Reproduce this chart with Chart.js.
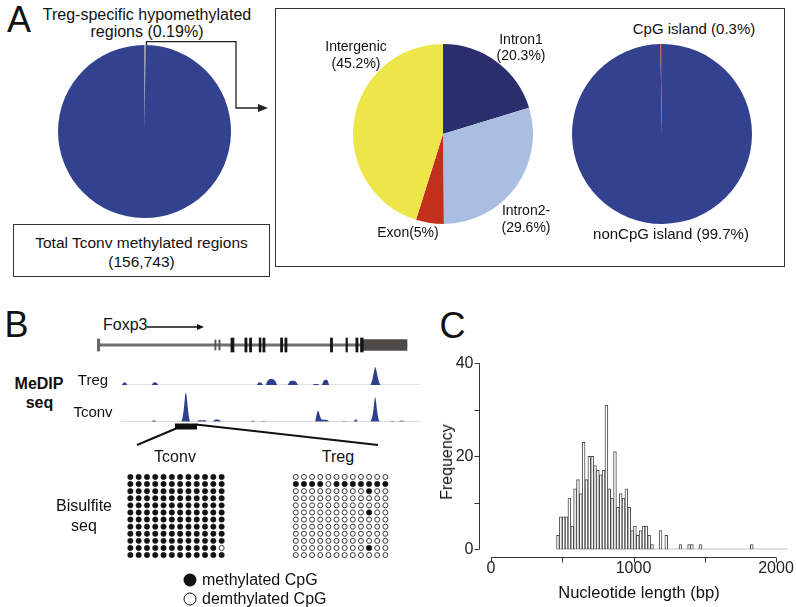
<!DOCTYPE html>
<html lang="en">
<head>
<meta charset="UTF-8">
<title>Treg hypomethylated regions</title>
<script src="https://cdn.jsdelivr.net/npm/chart.js@4.4.1/dist/chart.umd.min.js"></script>
<style>
    body{
        margin: 0;
        padding: 0;
        background: #fff;
        font-family: 'Liberation Sans', Arial, sans-serif;
        color: #111;
    }
    #page{
        position: relative;
        width: 796px;
        height: 607px;
        overflow: hidden;
    }
    canvas.abs, svg.abs{
        position: absolute;
    }
    .t{
        position: absolute;
        white-space: nowrap;
        line-height: 1;
        transform: translate(-50%, -50%);
    }
    .tl{
        position: absolute;
        white-space: nowrap;
        line-height: 1;
        transform: translate(0, -50%);
    }
    .box{
        position: absolute;
        border: 1px solid #333;
        box-sizing: border-box;
    }
    .dot{
        position: absolute;
        width: 13px;
        height: 13px;
        border-radius: 50%;
        box-sizing: border-box;
        transform: translate(-50%, -50%);
    }
</style>
</head>
<body>
<div id="page">
    <!-- panel A -->
    <div class="box" style="left:13px;top:224px;width:257px;height:53px;"></div>
    <div class="box" style="left:275px;top:8px;width:510px;height:259px;"></div>
    <canvas id="pieAll" class="abs" width="173" height="173" style="left:57.5px;top:45px;"></canvas>
    <canvas id="pieRegion" class="abs" width="180" height="180" style="left:353px;top:43.5px;"></canvas>
    <canvas id="pieCpg" class="abs" width="180" height="180" style="left:571.7px;top:43.5px;"></canvas>

    <div class="t" style="left:19px;top:20px;font-size:36px;">A</div>
    <div class="t" style="left:147px;top:14.5px;font-size:16px;">Treg-specific hypomethylated</div>
    <div class="t" id="lblAll" style="left:147px;top:31.5px;font-size:16px;"></div>
    <div class="t" style="left:141.5px;top:243px;font-size:15.5px;">Total Tconv methylated regions</div>
    <div class="t" id="lblTotal" style="left:141.5px;top:262px;font-size:15.5px;"></div>

    <div class="t" id="lblIntron1" style="left:521px;top:47.5px;font-size:14px;line-height:1.2;text-align:center;"></div>
    <div class="t" id="lblIntergenic" style="left:356px;top:55px;font-size:14px;line-height:1.2;text-align:center;"></div>
    <div class="t" id="lblIntron2" style="left:526px;top:219px;font-size:14px;line-height:1.2;text-align:center;"></div>
    <div class="t" id="lblExon" style="left:408px;top:232px;font-size:14px;"></div>
    <div class="t" id="lblCpg" style="left:694px;top:28px;font-size:15px;"></div>
    <div class="t" id="lblNonCpg" style="left:671px;top:233px;font-size:15px;"></div>

    <!-- panel B -->
    <div class="t" style="left:16.5px;top:325px;font-size:36px;">B</div>
    <div class="tl" style="left:103px;top:325px;font-size:16px;">Foxp3</div>
    <canvas id="gene" class="abs" width="323" height="18" style="left:97px;top:336px;"></canvas>
    <canvas id="trackTreg" class="abs" width="323" height="25" style="left:97px;top:361px;"></canvas>
    <canvas id="trackTconv" class="abs" width="323" height="34" style="left:97px;top:389px;"></canvas>
    <div class="t" style="left:39px;top:384px;font-size:16px;font-weight:bold;">MeDIP</div>
    <div class="t" style="left:39.5px;top:403px;font-size:16px;font-weight:bold;">seq</div>
    <div class="t" style="left:93px;top:379px;font-size:15px;">Treg</div>
    <div class="t" style="left:93px;top:411px;font-size:15px;">Tconv</div>

    <div class="t" style="left:175px;top:457px;font-size:16px;">Tconv</div>
    <div class="t" style="left:338px;top:457px;font-size:16px;">Treg</div>
    <div class="t" style="left:84px;top:506px;font-size:16px;">Bisulfite</div>
    <div class="t" style="left:84px;top:526px;font-size:16px;">seq</div>
    <canvas id="bisTconv" class="abs" width="116" height="100" style="left:118px;top:466px;"></canvas>
    <canvas id="bisTreg" class="abs" width="114" height="100" style="left:284px;top:466px;"></canvas>
    <div class="dot" style="left:190px;top:580px;background:#111;"></div>
    <div class="dot" style="left:190px;top:599px;background:#fff;border:1.3px solid #111;"></div>
    <div class="tl" style="left:202px;top:580px;font-size:16px;">methylated CpG</div>
    <div class="tl" style="left:202px;top:599px;font-size:16px;">demthylated CpG</div>

    <!-- panel C -->
    <div class="t" style="left:452.5px;top:326px;font-size:36px;">C</div>
    <canvas id="hist" class="abs" width="376" height="317" style="left:420px;top:290px;"></canvas>
    <div class="t" style="left:446.7px;top:461.5px;font-size:16px;transform:translate(-50%,-50%) rotate(-90deg);">Frequency</div>
    <div class="t" style="left:639px;top:591.7px;font-size:16.5px;">Nucleotide length (bp)</div>

    <svg class="abs" width="796" height="607" style="left:0;top:0;">
        <polyline points="146.5,45 146.5,41.7 236,41.7 236,108 259,108" fill="none" stroke="#222" stroke-width="1.3"/>
        <polygon points="258,104 268,108 258,112" fill="#222"/>
        <line x1="147" y1="327" x2="198" y2="327" stroke="#111" stroke-width="1.6"/>
        <polygon points="197,324 204,327 197,330" fill="#111"/>
        <rect x="175" y="423.5" width="22" height="6" fill="#111"/>
        <line x1="176" y1="428.5" x2="137" y2="445" stroke="#111" stroke-width="2"/>
        <line x1="196" y1="424.5" x2="378" y2="445" stroke="#111" stroke-width="2"/>
    </svg>
</div>

<script>
// ---- panel A: pies (percent) ----
const allLabels = ['Treg-specific hypomethylated regions', 'Other Tconv methylated regions'];
const allValues = [0.19, 99.81];
const totalRegions = '156,743';

const regionLabels = ['Intron1', 'Intron2-', 'Exon', 'Intergenic'];
const regionValues = [20.3, 29.6, 5, 45.2];

const cpgLabels = ['nonCpG island', 'CpG island'];
const cpgValues = [99.7, 0.3];

// ---- panel B: Foxp3 locus, positions in locus units ----
const tssMarker = [[0, 0.9]];
const minorExons = [[38.0, 38.4], [39.3, 39.7]];
const codingExons = [[43.2, 44.2], [47.7, 48.4], [49.2, 49.9], [52.3, 52.9], [53.5, 54.2],
    [59.2, 59.9], [60.6, 61.3], [75.3, 76.0], [80.3, 80.8], [83.5, 84.2], [85.0, 85.9]];
const utr3 = [[85.9, 100]];
const locusSpan = [0, 104.2];
const trackSpan = [8, 104.2];

// MeDIP read coverage [position, signal]
const tregSignal = [
    [8.0,0],[8.5,2],[8.9,2.7],[9.4,2],[9.8,0],
    [17.6,0],[18.2,2.2],[18.7,2.7],[19.3,2],[19.8,0],
    [51.5,0],[52.2,2.5],[52.9,2.5],[53.6,0],
    [54.4,0],[55.0,4],[55.6,5.5],[56.2,6],[56.9,5.5],[57.5,4],[58.2,0],
    [61.4,0],[62.2,3.5],[63.0,4.3],[63.8,4],[64.4,2.5],[64.9,0],
    [69.6,0],[70.0,1],[71.3,1],[71.7,0],
    [72.5,0],[73.0,3.5],[73.7,5.3],[74.4,4.5],[75.0,0],
    [88.1,0],[88.6,3],[89.0,8],[89.4,14],[89.7,18],[90.1,15],[90.5,9],[91.0,3],[91.5,0]
];
const tconvSignal = [
    [17.6,0],[18.0,1.2],[18.8,1.3],[19.2,0],
    [27.0,0],[27.5,3],[27.9,10],[28.3,22],[28.6,29],[28.9,26],[29.3,14],[29.7,4],[30.2,0],
    [32.2,0],[32.8,1.5],[34.0,1.3],[34.8,1.7],[35.4,0],
    [37.3,0],[38.0,2],[39.0,2.3],[39.6,1.5],[40.2,0],
    [49.4,0],[50.0,1],[50.6,1],[51.0,0],
    [52.8,0],[53.3,0.7],[54.0,0.7],[54.5,0],
    [70.3,0],[70.7,5],[71.1,10],[71.4,10.7],[71.9,6],[72.5,2.2],[73.8,2],[74.6,1],[75.2,0],
    [79.0,0],[79.5,0.7],[80.0,0.7],[80.5,0],
    [82.7,0],[83.2,2],[83.6,2.3],[84.3,0],
    [88.1,0],[88.6,3],[89.0,8],[89.4,18],[89.7,24.7],[90.0,21],[90.4,10],[90.8,3],[91.3,0],
    [94.5,0],[95.0,0.7],[95.6,0.7],[96.1,0],
    [97.2,0],[97.7,1],[98.8,1],[99.4,0]
];

// bisulfite clones: 1 = methylated CpG, 0 = unmethylated
const tconvClones = [
    '111111111111','111111111111','111111111111','111111111111',
    '111111111111','111111111111','111111111111','111111111111',
    '111111111111','111111111111','111111111110','111111111111'
];
const tregClones = [
    '000000000000','111101111111','000000000100','000000000000',
    '000000000000','000000000100','000000000000','000000000000',
    '000000000000','000000000000','000000000100','000000000000'
];

// ---- panel C: histogram of region length ----
const binStart = 460;
const binWidth = 20;
const histCounts = [
    3,7,7,7,11,5,13,15,12,23,
    15,20,20,18,17,16,17,31,13,11,
    21,9,12,11,13,9,4,5,3,4,
    5,5,3,1,0,0,4,0,3,0,
    0,0,0,1,0,0,1,1,0,0,
    1,0,0,0,0,0,0,0,0,0,
    0,0,0,0,0,0,0,0,1,0,
    0,0,0,0,0,0,0,0,0,0,0
];
const xTicks = [0, 500, 1000, 1500, 2000];
const xTickLabels = ['0', '', '1000', '', '2000'];
const yTicks = [0, 10, 20, 30, 40];
const yTickLabels = ['0', '', '20', '', '40'];

// ---------- labels built from the data ----------
document.getElementById('lblAll').textContent = 'regions (' + allValues[0] + '%)';
document.getElementById('lblTotal').textContent = '(' + totalRegions + ')';
document.getElementById('lblIntron1').innerHTML = regionLabels[0] + '<br>(' + regionValues[0] + '%)';
document.getElementById('lblIntron2').innerHTML = regionLabels[1] + '<br>(' + regionValues[1] + '%)';
document.getElementById('lblExon').textContent = regionLabels[2] + '(' + regionValues[2] + '%)';
document.getElementById('lblIntergenic').innerHTML = regionLabels[3] + '<br>(' + regionValues[3] + '%)';
document.getElementById('lblCpg').textContent = cpgLabels[1] + ' (' + cpgValues[1] + '%)';
document.getElementById('lblNonCpg').textContent = cpgLabels[0] + ' (' + cpgValues[0] + '%)';

const base = {
    responsive: false,
    maintainAspectRatio: false,
    animation: false,
    events: [],
    plugins: { legend: { display: false }, tooltip: { enabled: false } }
};

function pie(id, labels, values, colors) {
    new Chart(document.getElementById(id), {
        type: 'pie',
        data: { labels: labels, datasets: [{ data: values, backgroundColor: colors, borderWidth: 0 }] },
        options: base
    });
}
pie('pieAll', allLabels, allValues, ['#ecea9c', '#33428f']);
pie('pieRegion', regionLabels, regionValues, ['#2b2e6c', '#a9bee0', '#c2301c', '#ece64a']);
pie('pieCpg', cpgLabels, cpgValues, ['#33428f', '#c8302a']);

// ---------- gene model ----------
function geneSet(ranges, color, thick) {
    return ranges.map(r => ({ data: [r], backgroundColor: color, barThickness: thick, grouped: false, borderWidth: 0 }));
}
new Chart(document.getElementById('gene'), {
    type: 'bar',
    data: {
        labels: ['Foxp3'],
        datasets: [].concat(
            geneSet(codingExons, '#151515', 14),
            geneSet(minorExons, '#555', 10),
            geneSet(utr3, '#4d4946', 11),
            geneSet(tssMarker, '#666', 12),
            geneSet([[0, 100]], '#707070', 2.5)
        )
    },
    options: Object.assign({}, base, {
        indexAxis: 'y',
        scales: {
            x: { type: 'linear', min: locusSpan[0], max: locusSpan[1], display: false },
            y: { display: false }
        }
    })
});

// ---------- MeDIP tracks ----------
function track(id, signal, yMax, padBottom) {
    new Chart(document.getElementById(id), {
        type: 'scatter',
        data: {
            datasets: [{
                data: signal.map(p => ({ x: p[0], y: p[1] })),
                showLine: true,
                fill: 'origin',
                backgroundColor: '#2f3f8f',
                borderColor: 'rgba(0,0,0,0)',
                pointRadius: 0,
                cubicInterpolationMode: 'monotone'
            }, {
                data: trackSpan.map(x => ({ x: x, y: 0 })),
                showLine: true,
                borderColor: '#c4c4c4',
                borderWidth: 1,
                pointRadius: 0
            }]
        },
        options: Object.assign({}, base, {
            layout: { padding: { bottom: padBottom } },
            scales: {
                x: { type: 'linear', min: locusSpan[0], max: locusSpan[1], display: false },
                y: { min: 0, max: yMax, display: false }
            }
        })
    });
}
track('trackTreg', tregSignal, 24, 1);
track('trackTconv', tconvSignal, 32.7, 1.3);

// ---------- bisulfite dot grids ----------
function clonePoints(clones, state) {
    const pts = [];
    clones.forEach((row, r) => {
        row.split('').forEach((s, c) => { if (s === state) pts.push({ x: c, y: r }); });
    });
    return pts;
}
function bisulfite(id, clones, xMin, xMax) {
    new Chart(document.getElementById(id), {
        type: 'scatter',
        data: {
            datasets: [{
                data: clonePoints(clones, '1'),
                pointRadius: 2.7,
                pointBackgroundColor: '#111',
                pointBorderColor: '#111',
                pointBorderWidth: 0.5
            }, {
                data: clonePoints(clones, '0'),
                pointRadius: 2.5,
                pointBackgroundColor: '#fff',
                pointBorderColor: '#222',
                pointBorderWidth: 0.9
            }]
        },
        options: Object.assign({}, base, {
            scales: {
                x: { type: 'linear', min: xMin, max: xMax, display: false },
                y: { type: 'linear', min: -0.85, max: 11.85, reverse: true, display: false }
            }
        })
    });
}
bisulfite('bisTconv', tconvClones, -0.9, 11.9);
bisulfite('bisTreg', tregClones, -0.85, 11.95);

// ---------- histogram ----------
const histAxes = {
    id: 'histAxes',
    afterDraw(chart) {
        const ctx = chart.ctx;
        const x = chart.scales.x, y = chart.scales.y;
        const ax = Math.round(x.getPixelForValue(-84)) + 0.5;
        const ay = Math.round(y.getPixelForValue(-1.6)) + 0.5;
        ctx.save();
        ctx.strokeStyle = '#333';
        ctx.lineWidth = 1;
        ctx.beginPath();
        ctx.moveTo(ax, y.getPixelForValue(yTicks[0]));
        ctx.lineTo(ax, y.getPixelForValue(yTicks[yTicks.length - 1]));
        yTicks.forEach(v => {
            const py = Math.round(y.getPixelForValue(v)) + 0.5;
            ctx.moveTo(ax, py); ctx.lineTo(ax - 5, py);
        });
        ctx.moveTo(x.getPixelForValue(xTicks[0]), ay);
        ctx.lineTo(x.getPixelForValue(xTicks[xTicks.length - 1]), ay);
        xTicks.forEach(v => {
            const px = Math.round(x.getPixelForValue(v)) + 0.5;
            ctx.moveTo(px, ay); ctx.lineTo(px, ay + 5);
        });
        ctx.stroke();
        ctx.fillStyle = '#222';
        ctx.font = '16px "Liberation Sans", Arial, sans-serif';
        ctx.textAlign = 'right';
        ctx.textBaseline = 'middle';
        yTicks.forEach((v, i) => ctx.fillText(yTickLabels[i], ax - 6, y.getPixelForValue(v)));
        ctx.textAlign = 'center';
        xTicks.forEach((v, i) => ctx.fillText(xTickLabels[i], x.getPixelForValue(v), ay + 11));
        ctx.restore();
    }
};

new Chart(document.getElementById('hist'), {
    type: 'bar',
    data: {
        datasets: [{
            type: 'bar',
            data: histCounts.map((c, i) => ({ x: binStart + binWidth * (i + 0.5), y: c })),
            backgroundColor: '#fff',
            borderColor: '#4a4a4a',
            borderWidth: 1,
            borderSkipped: false,
            barPercentage: 1,
            categoryPercentage: 1
        }, {
            type: 'line',
            data: [{ x: binStart, y: 0 }, { x: binStart + binWidth * histCounts.length, y: 0 }],
            borderColor: '#666',
            borderWidth: 1,
            pointRadius: 0
        }]
    },
    options: Object.assign({}, base, {
        layout: { padding: { left: 56.75, right: 5.75, top: 73.3, bottom: 57.7 } },
        scales: {
            x: { type: 'linear', min: -100, max: 2100, offset: false, display: false },
            y: { min: 0, max: 40, display: false }
        }
    }),
    plugins: [histAxes]
});
</script>
</body>
</html>
